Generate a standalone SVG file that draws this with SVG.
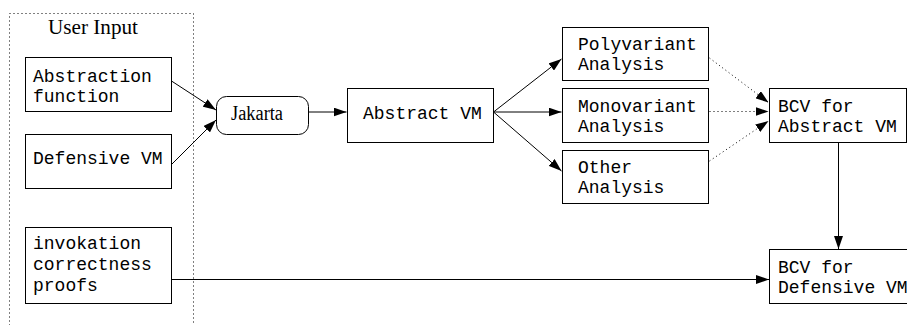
<svg xmlns="http://www.w3.org/2000/svg" width="907" height="325" viewBox="0 0 907 325">
<style>
.box{fill:#fff;stroke:#000;stroke-width:1}
.mono{font-family:"Liberation Mono","DejaVu Sans Mono",monospace;font-size:18px;fill:#000}
.serif{font-family:"Liberation Serif","DejaVu Serif",serif;font-size:20px;fill:#000}
.edge{fill:none;stroke:#000;stroke-width:1}
.dot{fill:none;stroke:#000;stroke-width:1;stroke-dasharray:1 3}
</style>
<defs>
<marker id="ah" markerWidth="13" markerHeight="9" refX="13" refY="4.5" orient="auto" markerUnits="userSpaceOnUse">
<path d="M0,0 L13,4.5 L0,9 Z" fill="#000"/>
</marker>
</defs>
<g id="user-input">
<rect x="9.5" y="13.5" width="184" height="330" fill="none" stroke="#000" stroke-width="1" stroke-dasharray="1 3"/>
<text class="serif" x="48" y="33.5" textLength="90" lengthAdjust="spacingAndGlyphs">User Input</text>
</g>
<g id="abstraction-function">
<rect class="box" x="25.5" y="57.5" width="146" height="54"/>
<text class="mono" x="33" y="82">Abstraction</text>
<text class="mono" x="33" y="102">function</text>
</g>
<g id="defensive-vm">
<rect class="box" x="25.5" y="134.5" width="146" height="54"/>
<text class="mono" x="33" y="164">Defensive VM</text>
</g>
<g id="invokation">
<rect class="box" x="25.5" y="227.5" width="146" height="76"/>
<text class="mono" x="33" y="249">invokation</text>
<text class="mono" x="33" y="270">correctness</text>
<text class="mono" x="33" y="291">proofs</text>
</g>
<g id="jakarta">
<rect class="box" x="216.5" y="96.5" width="92" height="38" rx="10" ry="10"/>
<text class="serif" x="231" y="120" textLength="52" lengthAdjust="spacingAndGlyphs">Jakarta</text>
</g>
<g id="abstract-vm">
<rect class="box" x="347.5" y="88.5" width="146" height="54"/>
<text class="mono" x="363" y="119">Abstract VM</text>
</g>
<g id="polyvariant">
<rect class="box" x="562.5" y="27.5" width="146" height="53"/>
<text class="mono" x="578" y="50">Polyvariant</text>
<text class="mono" x="578" y="70">Analysis</text>
</g>
<g id="monovariant">
<rect class="box" x="562.5" y="88.5" width="146" height="54"/>
<text class="mono" x="578" y="111.5">Monovariant</text>
<text class="mono" x="578" y="131.5">Analysis</text>
</g>
<g id="other">
<rect class="box" x="562.5" y="150.5" width="146" height="53"/>
<text class="mono" x="578" y="172.5">Other</text>
<text class="mono" x="578" y="192.5">Analysis</text>
</g>
<g id="bcv-abstract">
<rect class="box" x="769.5" y="88.5" width="137" height="54"/>
<text class="mono" x="778" y="111.5">BCV for</text>
<text class="mono" x="778" y="131.5">Abstract VM</text>
</g>
<g id="bcv-defensive">
<rect class="box" x="769.5" y="249.5" width="150" height="54"/>
<text class="mono" x="778" y="273">BCV for</text>
<text class="mono" x="778" y="293">Defensive VM</text>
</g>
<g id="connectors">
<line class="edge" x1="171.5" y1="81" x2="216" y2="110" marker-end="url(#ah)"/>
<line class="edge" x1="171.5" y1="164.5" x2="216" y2="120" marker-end="url(#ah)"/>
<line class="edge" x1="308.5" y1="112" x2="346.5" y2="112" marker-end="url(#ah)"/>
<line class="edge" x1="493.5" y1="112" x2="561.5" y2="59" marker-end="url(#ah)"/>
<line class="edge" x1="493.5" y1="112" x2="561.5" y2="112" marker-end="url(#ah)"/>
<line class="edge" x1="493.5" y1="112" x2="561.5" y2="171" marker-end="url(#ah)"/>
<line class="dot" x1="709.5" y1="58" x2="768.5" y2="102.5" marker-end="url(#ah)"/>
<line class="dot" x1="709.5" y1="111.5" x2="768.5" y2="111.5" marker-end="url(#ah)"/>
<line class="dot" x1="709.5" y1="161" x2="768.5" y2="121" marker-end="url(#ah)"/>
<line class="edge" x1="838.5" y1="142.5" x2="838.5" y2="249" marker-end="url(#ah)"/>
<line class="edge" x1="171.5" y1="279.5" x2="769" y2="279.5" marker-end="url(#ah)"/>
</g>
</svg>
